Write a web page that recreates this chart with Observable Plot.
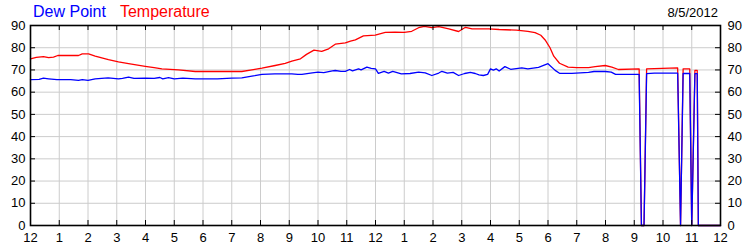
<!DOCTYPE html>
<html>
<head>
<meta charset="utf-8">
<script src="https://cdn.jsdelivr.net/npm/d3@7"></script>
<script src="https://cdn.jsdelivr.net/npm/@observablehq/plot@0.6"></script>
<style>
  html, body { margin: 0; padding: 0; background: #fff; }
  #wrap { position: relative; width: 750px; height: 250px; font-family: "Liberation Sans", Arial, sans-serif; }
  #legend { position: absolute; left: 33px; top: 4px; font-size: 16px; line-height: 16px; white-space: nowrap; }
  #legend .dew { color: #0000ff; }
  #legend .temp { color: #ff0000; margin-left: 14px; }
  #date { position: absolute; right: 32px; top: 6px; font-size: 13px; line-height: 13px; color: #000; }
</style>
</head>
<body>
<div id="wrap">
  <div id="chart"></div>
  <div id="legend"><span class="dew">Dew Point</span><span class="temp">Temperature</span></div>
  <div id="date">8/5/2012</div>
</div>
<script>
// Hours since midnight (8/5/2012) and readings (°F)
const tempHours = [0,0.2,0.45,0.63,0.8,0.95,1.67,1.8,2.02,2.25,2.71,3.06,3.41,3.99,4.3,4.57,5.15,5.73,7.35,7.7,8.05,8.51,8.86,9.09,9.39,9.6,9.86,10.13,10.37,10.6,10.95,11.13,11.3,11.58,11.99,12.34,12.68,13.0,13.26,13.5,13.7,13.96,14.2,14.55,14.89,15.13,15.36,15.94,16.3,16.9,17.3,17.55,17.75,17.9,18.07,18.2,18.4,18.7,19.0,19.41,19.64,19.99,20.22,20.45,21.17,21.25,21.34,21.43,22.51,22.61,22.70,22.93,23.00,23.11,23.19,23.23,24];
const tempValues = [75.0,75.7,76.0,75.5,75.8,76.5,76.5,77.2,77.2,76.2,74.6,73.6,72.8,71.6,71.0,70.5,70.0,69.3,69.3,70.0,70.8,72.0,73.0,74.0,75.0,77.0,78.9,78.4,79.5,81.6,82.2,83.0,83.5,85.3,85.7,86.9,87.0,86.9,87.4,89.0,89.6,89.0,89.5,88.5,87.3,89.2,88.5,88.5,88.2,87.9,87.4,86.8,85.6,83.5,80.0,76.2,73.0,71.3,71.0,71.0,71.5,72.0,71.3,70.2,70.5,0,0,70.5,70.9,0,70.5,70.5,0,69.8,69.8,0,0];

const dewHours = [0,0.3,0.45,0.63,0.92,1.4,1.67,1.8,2.0,2.25,2.7,3.06,3.2,3.41,3.6,4.0,4.3,4.5,4.6,4.8,5.0,5.3,5.73,6.5,7.0,7.35,7.6,7.8,8.05,8.5,9.09,9.3,9.44,9.8,10.0,10.2,10.5,10.6,10.8,10.95,11.1,11.2,11.41,11.5,11.7,11.85,12.0,12.1,12.3,12.45,12.6,12.9,13.2,13.5,13.73,13.96,14.2,14.31,14.5,14.7,14.89,15.1,15.3,15.47,15.6,15.75,15.9,16.0,16.1,16.2,16.3,16.5,16.7,17.09,17.3,17.67,18.0,18.25,18.4,18.83,19.41,19.6,20.0,20.2,20.35,21.17,21.25,21.34,21.43,21.7,22.51,22.61,22.70,22.93,23.00,23.11,23.19,23.23,24];
const dewValues = [65.6,65.8,66.3,66.0,65.6,65.6,65.3,65.6,65.3,66.0,66.4,66.0,66.2,66.8,66.2,66.3,66.2,66.6,66.0,66.5,66.0,66.3,66.0,66.0,66.3,66.4,67.0,67.4,68.0,68.2,68.25,68.0,68.0,68.7,69.0,68.8,69.6,69.75,69.4,69.4,70.2,69.6,70.5,70.0,71.25,70.7,70.5,68.5,69.4,68.6,69.4,68.25,68.4,69.0,68.7,67.5,68.6,69.4,68.6,68.9,67.5,68.4,68.9,68.4,67.8,67.5,68.0,70.5,69.9,70.5,69.5,71.5,70.3,70.9,70.5,71.2,72.8,69.8,68.5,68.5,68.9,69.3,69.3,69.0,68.0,68.0,0,0,68.3,68.6,68.6,0,68.4,68.4,0,68.3,68.3,0,0];

const xTicks = d3.range(0, 25, 1);
const yTicks = d3.range(0, 91, 10);
const hourLabel = h => (h % 12 === 0 ? 12 : h % 12);

const temp = tempHours.map((h, i) => ({h, v: tempValues[i]}));
const dew = dewHours.map((h, i) => ({h, v: dewValues[i]}));

const W = 750, H = 250, ML = 30, MR = 30, MT = 25, MB = 25;
const innerH = H - MT - MB, innerW = W - ML - MR, T = 5;

const chart = Plot.plot({
  width: W, height: H,
  marginLeft: ML, marginRight: MR, marginTop: MT, marginBottom: MB,
  style: {fontFamily: "'Liberation Sans', Arial, sans-serif", fontSize: "13px", color: "#000", background: "#fff"},
  x: {domain: [0, 24]},
  y: {domain: [0, 90]},
  marks: [
    Plot.gridX(xTicks, {stroke: "#cccccc", strokeOpacity: 1}),
    Plot.gridY(yTicks, {stroke: "#cccccc", strokeOpacity: 1}),
    Plot.line(temp, {x: "h", y: "v", stroke: "#ff0000", strokeWidth: 1.3}),
    Plot.line(dew, {x: "h", y: "v", stroke: "#0000ff", strokeWidth: 1.3}),
    // inward ticks on all four sides
    Plot.tickX(xTicks, {x: d => d, stroke: "#000", insetTop: innerH - T}),
    Plot.tickX(xTicks, {x: d => d, stroke: "#000", insetBottom: innerH - T}),
    Plot.tickY(yTicks, {y: d => d, stroke: "#000", insetRight: innerW - T}),
    Plot.tickY(yTicks, {y: d => d, stroke: "#000", insetLeft: innerW - T}),
    Plot.frame({stroke: "#000", strokeWidth: 1.6}),
    Plot.axisX({ticks: xTicks, tickSize: 0, tickPadding: 7, tickFormat: hourLabel, label: null, fontSize: 13, fill: "#000"}),
    Plot.axisY({anchor: "left", ticks: yTicks, tickSize: 0, tickPadding: 5, label: null, fontSize: 13, fill: "#000"}),
    Plot.axisY({anchor: "right", ticks: yTicks, tickSize: 0, tickPadding: 7, label: null, fontSize: 13, fill: "#000"})
  ]
});
document.getElementById("chart").append(chart);
</script>
</body>
</html>
